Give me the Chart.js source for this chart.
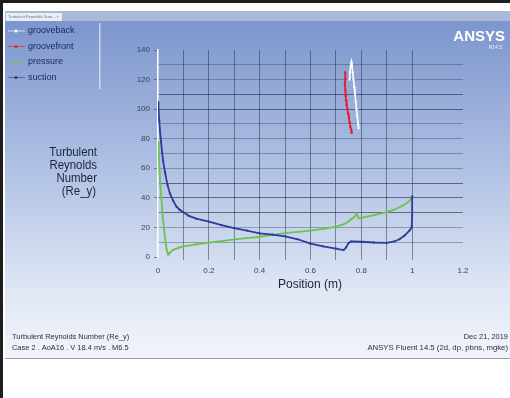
<!DOCTYPE html>
<html>
<head>
<meta charset="utf-8">
<script src="https://cdn.jsdelivr.net/npm/chart.js@4.4.1/dist/chart.umd.min.js"></script>
<style>
  html, body { margin: 0; padding: 0; background: #ffffff; }
  #wrap { width: 510px; height: 398px; position: relative; }
  canvas { display: block; }
</style>
</head>
<body>
<div id="wrap"><canvas id="c" width="510" height="398"></canvas></div>
<script>
// Turbulent Reynolds number along the surfaces (position in m)
const xTickLabels = ['0', '0.2', '0.4', '0.6', '0.8', '1', '1.2'];
const yTickLabels = ['0', '20', '40', '60', '80', '100', '120', '140'];

const groovebackX = [0.752, 0.755, 0.758, 0.761, 0.763, 0.766, 0.769, 0.772, 0.775, 0.778, 0.781, 0.784, 0.787, 0.789];
const groovebackY = [120, 125, 129, 132, 130, 125, 120, 115, 110, 105, 100, 95, 90, 87];

const groovefrontX = [0.736, 0.737, 0.735, 0.737, 0.738, 0.740, 0.742, 0.745, 0.748, 0.751, 0.754, 0.757, 0.760, 0.762];
const groovefrontY = [125, 121, 117, 113, 109, 106, 103, 100, 97, 94, 91, 88, 86, 84];

const pressureX = [0, 0.003, 0.008, 0.013, 0.02, 0.027, 0.034, 0.04, 0.045, 0.05, 0.06, 0.08, 0.1, 0.15, 0.2, 0.25, 0.3, 0.35, 0.4, 0.45, 0.5, 0.55, 0.6, 0.65, 0.7, 0.72, 0.74, 0.76, 0.775, 0.782, 0.79, 0.8, 0.85, 0.9, 0.93, 0.96, 0.98, 0.992, 1.0];
const pressureY = [78, 68, 52, 40, 25, 14, 5, 1.5, 2.5, 3.5, 4.8, 6.2, 7.2, 8.6, 9.7, 10.8, 11.9, 12.8, 13.7, 15, 16.2, 17, 17.8, 19, 20.5, 21.6, 22.8, 25.5, 27.5, 29.5, 26.2, 26.5, 28.3, 30.4, 32, 34.5, 36.5, 38.5, 41];

const suctionX = [0, 0.002, 0.005, 0.008, 0.012, 0.016, 0.02, 0.028, 0.037, 0.047, 0.06, 0.073, 0.085, 0.1, 0.12, 0.15, 0.2, 0.25, 0.3, 0.35, 0.4, 0.45, 0.5, 0.55, 0.6, 0.65, 0.7, 0.73, 0.74, 0.75, 0.76, 0.8, 0.85, 0.9, 0.93, 0.95, 0.97, 0.99, 0.998, 1.0, 1.0];
const suctionY = [105, 100, 92, 85, 78, 71, 65, 57, 49, 43, 38, 34, 32, 30.2, 28, 26, 23.9, 21.5, 19.5, 17.8, 16, 15.2, 14, 12, 9, 7.2, 5.6, 4.7, 6.5, 9.5, 10.5, 10.3, 9.8, 9.6, 10.5, 12, 14.5, 18, 20, 28, 41];

const seriesNames = ['grooveback', 'groovefront', 'pressure', 'suction'];
const seriesColors = ['#ffffff', '#e3202c', '#6cc44c', '#2e3c9c'];

function pairs(xs, ys) { return xs.map((x, i) => ({ x: x, y: ys[i] })); }

const FONT = '"Liberation Sans", Arial, sans-serif';

// draws text squeezed horizontally by factor k
function narrowText(ctx, text, x, y, k, align) {
  ctx.save();
  ctx.translate(x, y);
  ctx.scale(k, 1);
  ctx.textAlign = align;
  ctx.fillText(text, 0, 0);
  ctx.restore();
}

// Panel background, header strip, logo and footer captions
const panelPlugin = {
  id: 'panel',
  beforeDraw(chart) {
    const ctx = chart.ctx;
    ctx.save();
    ctx.fillStyle = '#ffffff';
    ctx.fillRect(0, 0, 510, 398);
    // dark frame edges
    ctx.fillStyle = '#1e1e1e';
    ctx.fillRect(0, 0, 510, 3);
    ctx.fillRect(0, 0, 3, 398);
    // main panel gradient
    const g = ctx.createLinearGradient(0, 21, 0, 358);
    g.addColorStop(0, '#7c95cd');
    g.addColorStop(0.45, '#b1c2e4');
    g.addColorStop(0.8, '#dfe7f5');
    g.addColorStop(1, '#f1f4fa');
    ctx.fillStyle = g;
    ctx.fillRect(5, 11, 505, 348);
    // header strip
    ctx.fillStyle = '#a9b9d8';
    ctx.fillRect(5, 11, 505, 10);
    ctx.fillStyle = '#e9edf5';
    ctx.fillRect(6, 13, 56, 8);
    ctx.fillStyle = '#6c7488';
    ctx.font = '4px ' + FONT;
    ctx.textBaseline = 'middle';
    ctx.fillText('Turbulent Reynolds Num... \u00d7', 8, 17);
    // panel bottom edge
    ctx.fillStyle = '#9aa0aa';
    ctx.fillRect(5, 358, 505, 1);
    // legend divider
    ctx.fillStyle = 'rgba(220,228,245,0.8)';
    ctx.fillRect(99, 23, 1.5, 66);
    // logo
    ctx.fillStyle = '#ffffff';
    ctx.textAlign = 'right';
    ctx.textBaseline = 'alphabetic';
    ctx.font = 'bold 15px ' + FONT;
    ctx.fillText('ANSYS', 505, 41);
    ctx.font = '5px ' + FONT;
    ctx.fillStyle = 'rgba(255,255,255,0.85)';
    ctx.fillText('R14.5', 502, 49);
    // footer captions
    ctx.fillStyle = '#2a2f3a';
    ctx.font = '8px ' + FONT;
    narrowText(ctx, 'Turbulent Reynolds Number (Re_y)', 12, 339, 0.93, 'left');
    narrowText(ctx, 'Case 2 . AoA16 . V 18.4 m/s . M6.5', 12, 350, 0.93, 'left');
    narrowText(ctx, 'Dec 21, 2019', 508, 339, 0.93, 'right');
    narrowText(ctx, 'ANSYS Fluent 14.5 (2d, dp, pbns, mgke)', 508, 350, 0.97, 'right');
    // axis titles
    ctx.fillStyle = '#1c2538';
    ctx.font = '12px ' + FONT;
    ctx.textBaseline = 'middle';
    ['Turbulent', 'Reynolds', 'Number', '(Re_y)'].forEach((t, i) => {
      narrowText(ctx, t, i === 3 ? 96 : 97, 153 + i * 12.8, 0.95, 'right');
    });
    ctx.textAlign = 'center';
    ctx.fillText('Position (m)', 310, 285);
    ctx.restore();
  },
  afterDraw(chart) {
    // legend block on the left, built from the datasets
    const ctx = chart.ctx;
    ctx.save();
    ctx.font = '9px ' + FONT;
    ctx.textBaseline = 'middle';
    ctx.textAlign = 'left';
    chart.data.datasets.forEach((ds, i) => {
      const y = 31 + i * 15.5;
      ctx.strokeStyle = ds.borderColor;
      ctx.globalAlpha = 0.6;
      ctx.lineWidth = 1;
      ctx.beginPath();
      ctx.moveTo(8, y);
      ctx.lineTo(25, y);
      ctx.stroke();
      ctx.globalAlpha = 1;
      ctx.fillStyle = ds.borderColor;
      ctx.beginPath();
      ctx.arc(16, y, 1.6, 0, Math.PI * 2);
      ctx.fill();
      ctx.fillStyle = '#1d2a62';
      ctx.fillText(ds.label, 28, y);
    });
    ctx.restore();
  }
};

function fmtX(v) {
  const k = Math.round(v * 10);
  if (k % 2 !== 0) return '';
  const s = (k / 10).toString();
  return xTickLabels.includes(s) ? s : '';
}
function fmtY(v) {
  const s = String(Math.round(v));
  return (Math.round(v) % 20 === 0 && yTickLabels.includes(s)) ? s : '';
}
function gridY(c) {
  const v = Math.round(c.tick.value);
  if (v <= 0 || v >= 140) return 'rgba(0,0,0,0)';
  if (v === 30 || v === 40 || v === 50 || v === 100 || v === 110) return 'rgba(38,44,60,0.62)';
  return 'rgba(50,58,78,0.38)';
}
function gridX(c) {
  const k = Math.round(c.tick.value * 10);
  if (k <= 0 || k > 10) return 'rgba(0,0,0,0)';
  return 'rgba(40,46,62,0.5)';
}

const datasets = [
  { label: seriesNames[0], data: pairs(groovebackX, groovebackY), borderColor: seriesColors[0], backgroundColor: seriesColors[0], borderWidth: 1.6, pointRadius: 1.1, order: 0 },
  { label: seriesNames[1], data: pairs(groovefrontX, groovefrontY), borderColor: seriesColors[1], backgroundColor: seriesColors[1], borderWidth: 1.8, pointRadius: 1.2, order: 1 },
  { label: seriesNames[2], data: pairs(pressureX, pressureY), borderColor: seriesColors[2], backgroundColor: seriesColors[2], borderWidth: 1.8, pointRadius: 1, order: 3 },
  { label: seriesNames[3], data: pairs(suctionX, suctionY), borderColor: seriesColors[3], backgroundColor: seriesColors[3], borderWidth: 1.8, pointRadius: 1.1, order: 2 }
];

new Chart(document.getElementById('c'), {
  type: 'scatter',
  data: { datasets: datasets.map(d => Object.assign({ showLine: true, tension: 0, pointHoverRadius: 0, pointBorderWidth: 0 }, d)) },
  plugins: [panelPlugin],
  options: {
    responsive: false,
    animation: false,
    events: [],
    layout: { padding: { left: 128, top: 50, right: 47, bottom: 111 } },
    plugins: { legend: { display: false }, tooltip: { enabled: false } },
    scales: {
      x: {
        type: 'linear', min: 0, max: 1.2,
        afterFit(s) { s.height = 30; },
        border: { display: false },
        grid: { color: gridX, lineWidth: 1, drawTicks: true, tickLength: 3, tickColor: gridX },
        ticks: { stepSize: 0.1, autoSkip: false, maxRotation: 0, padding: 6, color: '#3c4250', font: { size: 8, family: FONT }, callback: fmtX }
      },
      y: {
        type: 'linear', min: 0, max: 140,
        afterFit(s) { s.width = 30; },
        border: { display: true, color: '#ffffff', width: 1.5 },
        grid: { color: gridY, lineWidth: 1, drawTicks: true, tickLength: 4,
                tickColor: c => (Math.round(c.tick.value) % 20 === 0 ? 'rgba(60,66,80,0.6)' : 'rgba(0,0,0,0)') },
        ticks: { stepSize: 10, autoSkip: false, padding: 4, color: '#3c4250', font: { size: 8, family: FONT }, callback: fmtY }
      }
    }
  }
});
</script>
</body>
</html>
